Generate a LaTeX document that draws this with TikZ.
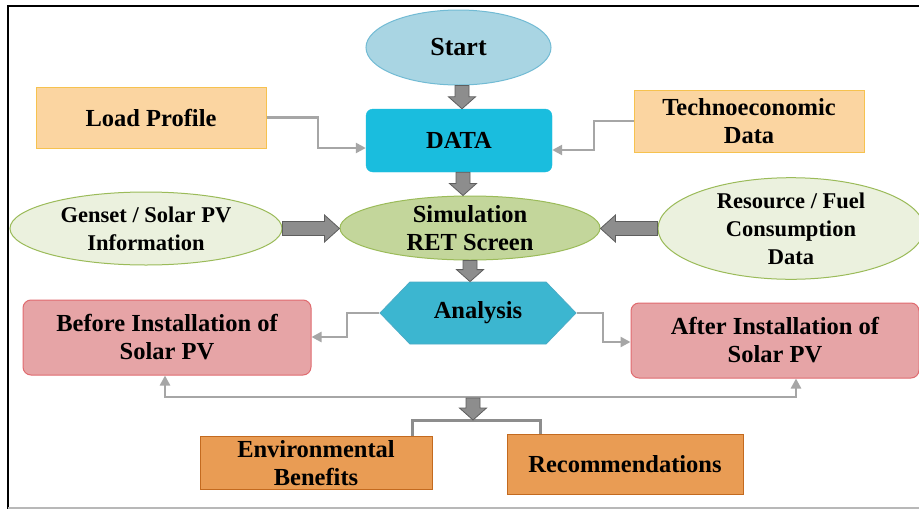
\documentclass[tikz,border=0pt]{standalone}
\usepackage{fontspec}
\setmainfont{Liberation Serif}
\usetikzlibrary{shapes.geometric,shapes.symbols,arrows.meta,calc}
\definecolor{startfill}{HTML}{A9D5E3}
\definecolor{startdraw}{HTML}{72BBD4}
\definecolor{datafill}{HTML}{1ABDDE}
\definecolor{loadfill}{HTML}{FBD5A1}
\definecolor{loaddraw}{HTML}{F6C24F}
\definecolor{simfill}{HTML}{C3D69B}
\definecolor{simdraw}{HTML}{9BBB59}
\definecolor{genfill}{HTML}{EBF1DE}
\definecolor{anafill}{HTML}{3CB6D0}
\definecolor{anadraw}{HTML}{4BACC6}
\definecolor{befill}{HTML}{E6A4A6}
\definecolor{bedraw}{HTML}{E06B6F}
\definecolor{envfill}{HTML}{E99C54}
\definecolor{envdraw}{HTML}{C36A1F}
\definecolor{connc}{HTML}{A6A6A6}
\definecolor{blkfill}{HTML}{8D8D8D}
\definecolor{blkdraw}{HTML}{5E5E5E}
\tikzset{
  base/.style={inner sep=0pt, align=center, text=black,
    font=\bfseries\fontsize{24.5}{28}\selectfont},
  small/.style={font=\bfseries\fontsize{22.5}{28}\selectfont},
  tip/.tip={Triangle[length=10pt,width=10pt]},
  conn/.style={draw=connc, line width=2.4pt, -tip},
  blk/.style={fill=blkfill, draw=blkdraw, line width=0.8pt},
  orangebox/.style={base, rectangle, fill=loadfill, draw=loaddraw, line width=1pt},
  pinkbox/.style={base, rectangle, rounded corners=8pt, fill=befill, draw=bedraw, line width=1pt,
    minimum width=288pt, minimum height=75pt},
  darkbox/.style={base, rectangle, fill=envfill, draw=envdraw, line width=1pt},
  sideell/.style={base, small, ellipse, fill=genfill, draw=simdraw, line width=1pt},
}
\newcommand\blkdown[2]{\path[blk] let \p1=(#1), \p2=(#2) in
  (\x1-7pt,\y1) -- (\x1-7pt,\y2+12pt) -- (\x1-13.5pt,\y2+12pt) -- (\x1,\y2)
  -- (\x1+13.5pt,\y2+12pt) -- (\x1+7pt,\y2+12pt) -- (\x1+7pt,\y1) -- cycle;}
\newcommand\blkright[2]{\path[blk] let \p1=(#1), \p2=(#2) in
  (\x1,\y1-7pt) -- (\x2-15pt,\y1-7pt) -- (\x2-15pt,\y1-13.5pt) -- (\x2,\y1)
  -- (\x2-15pt,\y1+13.5pt) -- (\x2-15pt,\y1+7pt) -- (\x1,\y1+7pt) -- cycle;}
\newcommand\blkleft[2]{\path[blk] let \p1=(#1), \p2=(#2) in
  (\x1,\y1-7pt) -- (\x2+15pt,\y1-7pt) -- (\x2+15pt,\y1-13.5pt) -- (\x2,\y1)
  -- (\x2+15pt,\y1+13.5pt) -- (\x2+15pt,\y1+7pt) -- (\x1,\y1+7pt) -- cycle;}
\begin{document}
\begin{tikzpicture}[x=1pt,y=1pt]
\useasboundingbox (0,0) rectangle (919,-509);
\fill[white] (0,0) rectangle (919,-509);
% frame
\draw[black, line width=2pt] (8,-509) -- (8,-6) -- (919,-6);
\draw[connc!80, line width=1.5pt] (8,-508) -- (919,-508);

% nodes
\node[base, ellipse, fill=startfill, draw=startdraw, line width=1pt,
  minimum width=185pt, minimum height=75pt, font=\bfseries\fontsize{26}{28}\selectfont]
  (start) at (458.5,-47.5) {Start};
\node[base, rectangle, rounded corners=7pt, fill=datafill, draw=datafill,
  minimum width=186pt, minimum height=63pt] (data) at (459,-140.5) {DATA};
\node[orangebox, minimum width=230pt, minimum height=61pt] (load) at (151,-117.5) {Load Profile};
\node[orangebox, minimum width=230pt, minimum height=62pt] (tech) at (749,-121) {Technoeconomic\\Data};
\node[base, ellipse, fill=simfill, draw=simdraw, line width=1pt,
  minimum width=260pt, minimum height=64pt] (sim) at (470,-228) {Simulation\\RET Screen};
\node[sideell, minimum width=272pt, minimum height=73pt] (gen) at (146,-228.5) {Genset / Solar PV\\Information};
\node[sideell, minimum width=266pt, minimum height=87pt] (res) at (791,-228.5) {Resource / Fuel\\Consumption\\Data};
\node[base, signal, signal to=east and west, signal pointer angle=92,
  fill=anafill, draw=anadraw, line width=0.8pt,
  minimum width=196pt, minimum height=62pt] (ana) at (478,-313) {Analysis};
\node[pinkbox] (before) at (167,-337.5) {Before Installation of\\Solar PV};
\node[pinkbox] (after) at (775,-340.5) {After Installation of\\Solar PV};
\node[darkbox, minimum width=232pt, minimum height=53pt] (env) at (316,-463) {Environmental\\Benefits};
\node[darkbox, minimum width=236pt, minimum height=60pt] (rec) at (625,-464) {Recommendations};

% thin connectors
\coordinate (c1) at (318,-148);
\coordinate (c2) at (594,-150);
\coordinate (c3) at (347,-337);
\coordinate (c4) at (603,-342);
\coordinate (b1) at (165,-397);
\coordinate (b2) at (796,-397);
\draw[conn] (load.east) -| (c1) -- (c1 -| data.west);
\draw[conn] (tech.west) -| (c2) -- (c2 -| data.east);
\draw[conn] (ana.west) -| (c3) -- (c3 -| before.east);
\draw[conn] (ana.east) -| (c4) -- (c4 -| after.west);
\draw[conn, tip-tip]
  (b1 |- before.south) -- (b1) -- (b2) -- (b2 |- after.south);
% bracket
\coordinate (k1) at (412,-420);
\coordinate (k2) at (540,-420);
\draw[draw=connc!85!black, line width=3pt] (k1 |- env.north) -- (k1) -- (k2) -- (k2 |- rec.north);

% block arrows
\coordinate (a1) at (462,0);
\coordinate (a2) at (463,0);
\coordinate (a3) at (470,0);
\coordinate (a4) at (473,-398);
\blkdown{a1 |- start.south}{a1 |- data.north}
\blkdown{a2 |- data.south}{a2 |- sim.north}
\blkdown{a3 |- sim.south}{a3 |- ana.north}
\blkdown{a4}{a4 |- k1}
\blkright{gen.east}{sim.west}
\blkleft{res.west}{sim.east}
\end{tikzpicture}
\end{document}
